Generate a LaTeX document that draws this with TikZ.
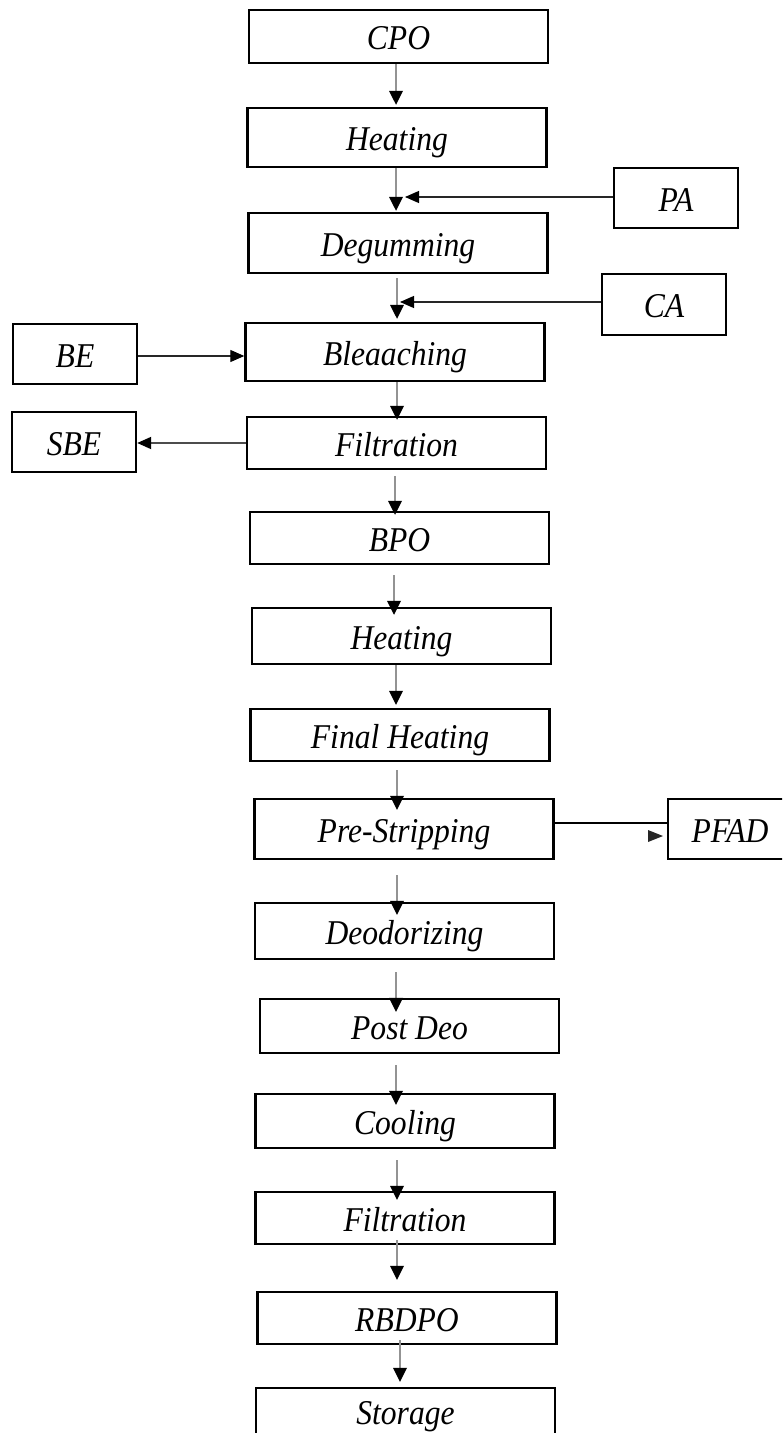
\documentclass[tikz,border=0pt]{standalone}
\usepackage{graphicx}
\usepackage{fontspec}
\setmainfont{Liberation Serif}
\usetikzlibrary{arrows.meta,calc}
\newcommand\vflow[5]{\coordinate (vx) at (#3,0);
  \draw[flow] ($(#1.south -| vx)+(0,#4)$) -- ($(#2.north -| vx)+(0,#5)$);}
\newcommand\tallt[1]{\scalebox{1}[1.1]{#1}}
\begin{document}
\begin{tikzpicture}[x=0.5pt,y=-0.5pt,
  box/.style={draw,line width=1.2pt,inner sep=0pt,minimum width=149.5pt,
    text height=13.2pt,text depth=0pt,
    font=\fontsize{15.8}{19}\selectfont\itshape},
  sidebox/.style={box,minimum width=62pt},
  flow/.style={draw=gray!85,line width=0.75pt,-{Triangle[length=7pt,width=6.8pt,black]}},
  sideflow/.style={draw=black!85,line width=0.6pt,-{Triangle[length=7pt,width=6pt,black]}}]
\useasboundingbox (0,0) rectangle (782,1433);
\clip (0,0) rectangle (782,1433);
% main column
\node[box,minimum height=26.5pt] (cpo)  at (398.5,36.5) {\tallt{CPO}};
\node[box,minimum height=29.5pt] (h1)   at (397,137.5) {\tallt{Heating}};
\node[box,minimum height=30pt]   (deg)  at (398,243) {\tallt{Degumming}};
\node[box,minimum height=29pt]   (ble)  at (395,352) {\tallt{Bleaaching}};
\node[box,minimum height=26pt]   (fil1) at (396.5,443) {\tallt{Filtration}};
\node[box,minimum height=26pt]   (bpo)  at (399.5,538) {\tallt{BPO}};
\node[box,minimum height=28pt]   (h2)   at (401.5,636) {\tallt{Heating}};
\node[box,minimum height=26pt]   (fh)   at (400,735) {\tallt{Final Heating}};
\node[box,minimum height=30pt]   (ps)   at (404,829) {\tallt{Pre-Stripping}};
\node[box,minimum height=28pt]   (deo)  at (404.5,931) {\tallt{Deodorizing}};
\node[box,minimum height=27pt]   (pd)   at (409.5,1026) {\tallt{Post Deo}};
\node[box,minimum height=27pt]   (cool) at (405,1121) {\tallt{Cooling}};
\node[box,minimum height=26pt]   (fil2) at (405,1218) {\tallt{Filtration}};
\node[box,minimum height=26pt]   (rb)   at (407,1318) {\tallt{RBDPO}};
\node[box,minimum height=30pt,text height=6pt] (st) at (405.5,1418) {\tallt{Storage}};
% side boxes
\node[sidebox,minimum height=30pt]   (pa)   at (676,198) {\tallt{PA}};
\node[sidebox,minimum height=30.5pt] (ca)   at (664,304.5) {\tallt{CA}};
\node[sidebox,minimum height=30pt]   (be)   at (75,354) {\tallt{BE}};
\node[sidebox,minimum height=30pt]   (sbe)  at (74,442) {\tallt{SBE}};
\node[sidebox,minimum height=30pt]   (pfad) at (730,829) {\tallt{PFAD}};
% vertical flow
\vflow{cpo}{h1}{396}{0}{-2}
\vflow{h1}{deg}{396}{0}{-1}
\vflow{deg}{ble}{397}{4}{-3}
\vflow{ble}{fil1}{397}{0}{4}
\vflow{fil1}{bpo}{395}{6}{4}
\vflow{bpo}{h2}{394}{10}{8}
\vflow{h2}{fh}{396}{0}{-3}
\vflow{fh}{ps}{397}{8}{12}
\vflow{ps}{deo}{397}{15}{13}
\vflow{deo}{pd}{396}{12}{14}
\vflow{pd}{cool}{396}{11}{12}
\vflow{cool}{fil2}{397}{11}{9}
\vflow{fil2}{rb}{397}{-5}{-11}
\vflow{rb}{st}{400}{-5}{-5}
% side flows
\coordinate (patip) at (405,197);
\draw[sideflow] (pa.west |- patip) -- (patip);
\coordinate (catip) at (400,302);
\draw[sideflow] (ca.west |- catip) -- (catip);
\draw[sideflow] ($(be.east)+(0,2)$) -- ($(be.east -| ble.west)+(0,2)$);
\draw[sideflow,draw=black!70,line width=0.9pt] (fil1.west) -- (fil1.west -| sbe.east);
\draw[line width=1pt] ($(ps.east)+(0,-6)$) -- ($(ps.east -| pfad.west)+(0,-6)$);
\coordinate (pftip) at (663,836);
\fill[black!85] ($(pftip)+(-15,-6)$) -- (pftip) -- ($(pftip)+(-15,6)$) -- cycle;
\end{tikzpicture}
\end{document}
